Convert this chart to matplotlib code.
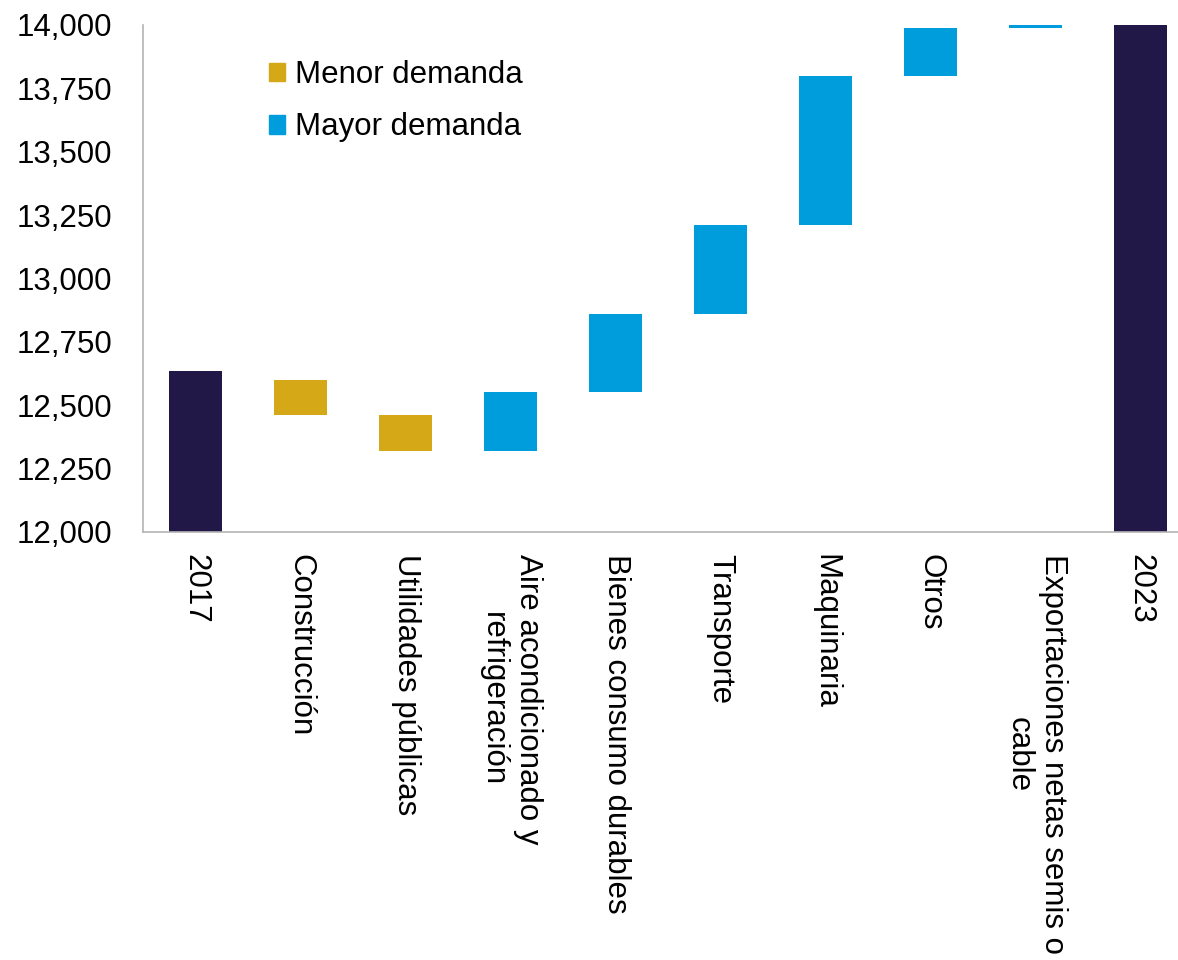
import matplotlib
matplotlib.use('Agg')
import matplotlib.pyplot as plt
from matplotlib.patches import Patch
from matplotlib.ticker import FuncFormatter

plt.rcParams['font.family'] = ['Liberation Sans', 'DejaVu Sans']

categorias = ['2017', 'Construcción', 'Utilidades públicas',
              'Aire acondicionado y\nrefrigeración', 'Bienes consumo durables',
              'Transporte', 'Maquinaria', 'Otros',
              'Exportaciones netas semis o\ncable', '2023']
# inicio y fin de cada barra (toneladas)
inicio = [0, 12601, 12463, 12321, 12551, 12860, 13211, 13797, 13987, 0]
fin = [12635, 12463, 12321, 12551, 12860, 13211, 13797, 13987, 14002, 14040]
tipo = ['total', 'menor', 'menor', 'mayor', 'mayor', 'mayor', 'mayor', 'mayor', 'mayor', 'total']

colores = {'total': '#211848', 'menor': '#D5A817', 'mayor': '#009DDC'}

fig = plt.figure(figsize=(11.78, 9.6), dpi=100)
ax = fig.add_axes([143/1178, 1 - 532/960, 1 - 143/1178, (532 - 25)/960])

x = range(len(categorias))
abajo = [min(a, b) for a, b in zip(inicio, fin)]
alto = [abs(b - a) for a, b in zip(inicio, fin)]
ax.bar(x, alto, bottom=abajo, width=0.5, color=[colores[t] for t in tipo])

ax.set_ylim(12000, 14000)
ax.set_xlim(-0.5, 9.357)
ax.set_yticks(range(12000, 14001, 250))
ax.yaxis.set_major_formatter(FuncFormatter(lambda v, p: f'{v:,.0f}'))
ax.set_xticks(list(x))
ax.set_xticklabels(categorias, rotation=270, ha='center', va='top',
                   multialignment='center')
ax.tick_params(axis='both', length=0, labelsize=22.5)
ax.tick_params(axis='y', pad=22)
ax.tick_params(axis='x', pad=16)

for s in ['top', 'right']:
    ax.spines[s].set_visible(False)
for s in ['left', 'bottom']:
    ax.spines[s].set_color('#B4B4B4')
    ax.spines[s].set_linewidth(1.2)

handles = [Patch(color=colores['menor'], label='Menor demanda'),
           Patch(color=colores['mayor'], label='Mayor demanda')]
fig.legend(handles=handles, loc='upper left', bbox_to_anchor=(269/1178, 1 - 60/960),
           frameon=False, fontsize=22.5, handlelength=0.52, handleheight=0.52,
           handletextpad=0.3, labelspacing=0.72, borderpad=0, borderaxespad=0)

fig.savefig('out.png', dpi=100)
